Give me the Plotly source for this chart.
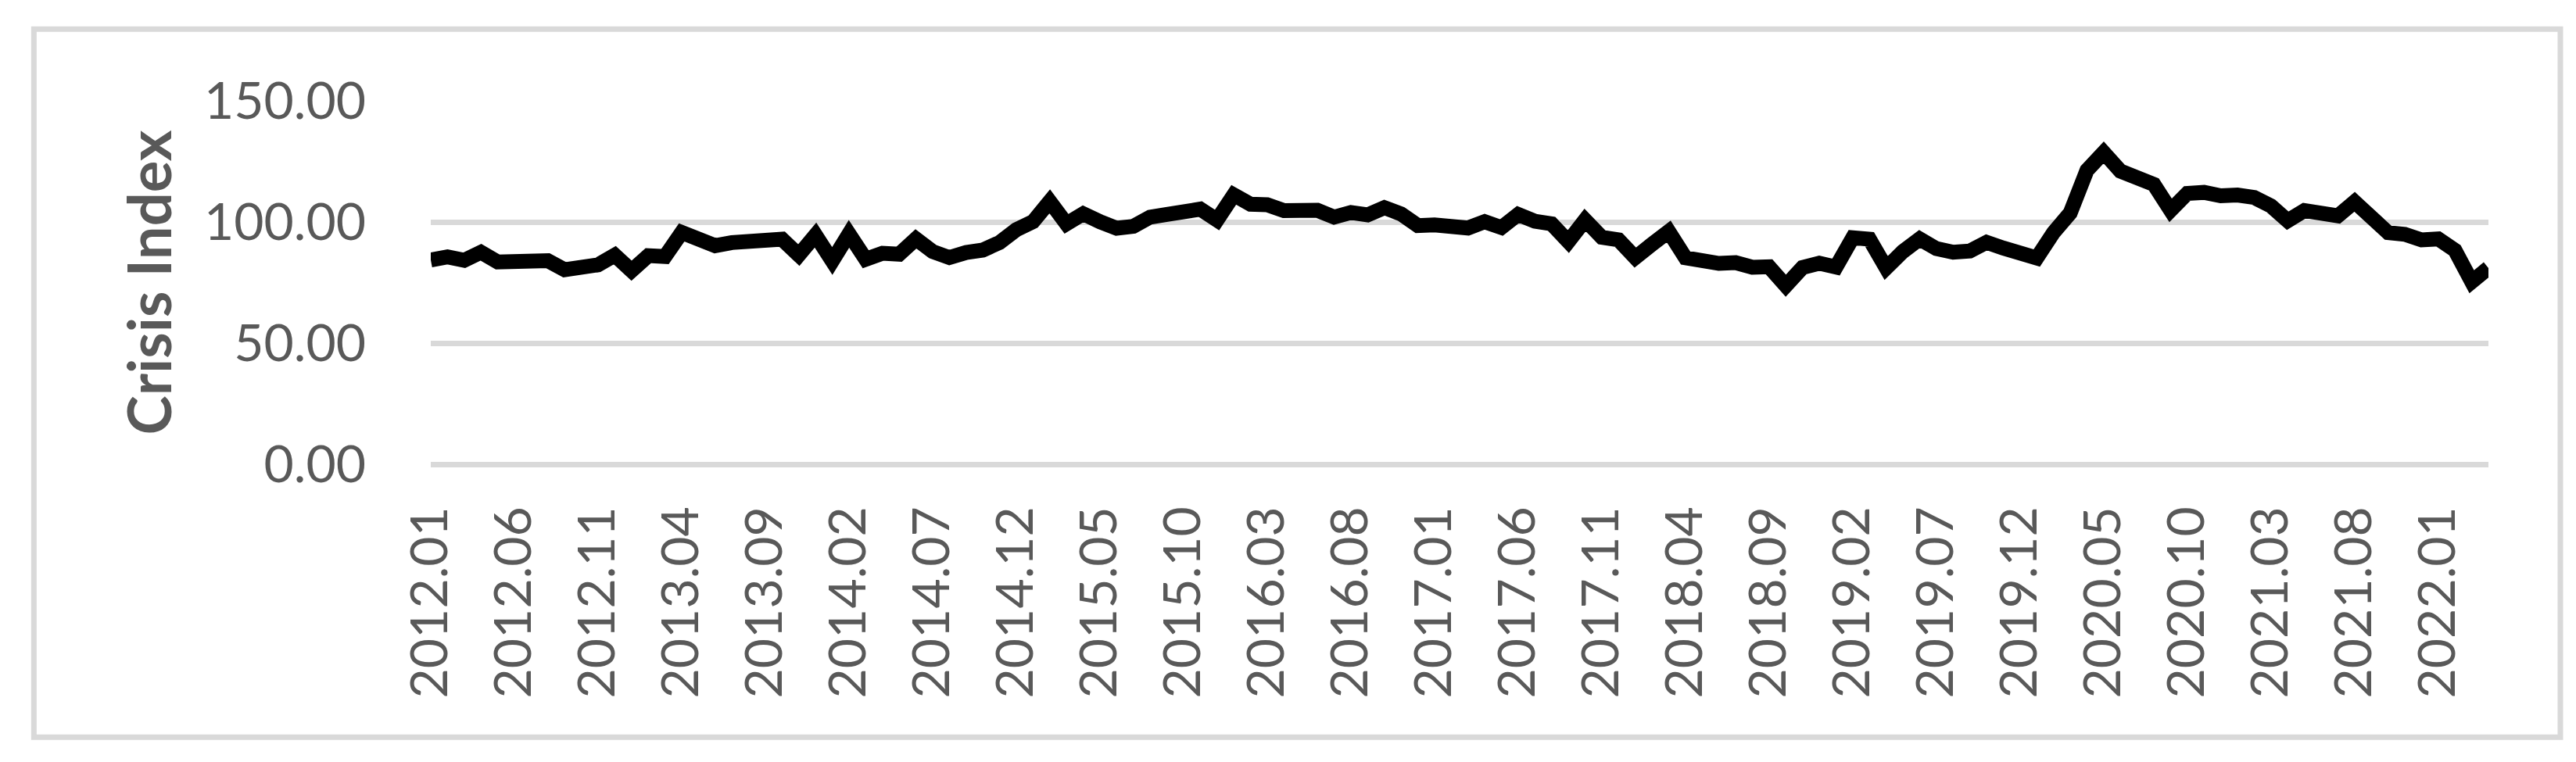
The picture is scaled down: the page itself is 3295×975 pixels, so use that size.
import plotly.graph_objects as go

# monthly crisis index, 2012.01 .. 2022.04
start_year = 2012
start_month = 1
crisis_index = [
    84.3, 85.6, 84.2, 87.5, 83.5, 84.0, 83.7, 84.0, 80.3, 82.0, 82.3, 86.3,
    79.9, 86.1, 85.7, 95.7, 93.2, 90.2, 91.5, 92.3, 92.8, 92.9, 86.3, 94.6,
    83.9, 95.1, 84.6, 87.1, 86.7, 93.0, 87.8, 85.3, 87.4, 88.4, 91.5, 96.8,
    100.1, 108.5, 99.2, 103.4, 100.1, 97.4, 98.2, 102.0, 103.1, 103.8, 105.3, 100.8,
    111.2, 107.3, 107.1, 104.7, 105.2, 104.8, 102.0, 103.9, 102.9, 105.9, 103.3, 98.5,
    98.8, 97.4, 97.5, 100.1, 97.7, 103.1, 100.3, 99.2, 91.9, 100.8, 93.7, 92.6,
    85.3, 90.8, 96.1, 85.2, 83.5, 82.9, 83.2, 81.3, 81.5, 73.7, 81.2, 83.0,
    81.4, 93.5, 92.9, 81.0, 87.8, 93.0, 89.0, 87.5, 88.0, 91.6, 89.2, 87.7,
    85.1, 95.6, 103.7, 121.3, 128.7, 121.0, 117.8, 115.5, 104.8, 111.8, 112.2, 110.8,
    111.1, 110.1, 106.6, 100.5, 104.7, 103.3, 102.5, 108.3, 101.2, 95.6, 94.9, 92.6,
    93.0, 88.3, 75.3, 81.0,
]
months = []
for k in range(len(crisis_index)):
    m = start_month - 1 + k
    months.append("%d.%02d" % (start_year + m // 12, m % 12 + 1))
tick_labels = months[::5]
y_ticks = [0, 50, 100, 150]

W, H = 3295, 975
L, R, T, B = 542.7, 3175, 120.7, 585.7
grey = "#595959"
grid = "#D9D9D9"

fig = go.Figure()
fig.add_trace(go.Scatter(x=months, y=crisis_index, mode="lines",
                         line=dict(color="black", width=19)))

fig.update_layout(
    width=W, height=H, showlegend=False,
    margin=dict(l=L, r=W - R, t=T, b=H - B, autoexpand=False),
    paper_bgcolor="white", plot_bgcolor="white",
    font=dict(family="Lato", color=grey),
)
fig.update_xaxes(type="category", tickmode="array", tickvals=tick_labels, ticktext=tick_labels,
                 tickangle=-90, tickfont=dict(size=66, color=grey), showgrid=False,
                 showline=False, zeroline=False, ticks="", ticklabelstandoff=40)
fig.update_yaxes(range=[0, 150], tickvals=y_ticks, ticktext=["%.2f" % v for v in y_ticks],
                 tickfont=dict(size=66, color=grey), showgrid=True, gridcolor=grid, gridwidth=7,
                 zeroline=True, zerolinecolor=grid, zerolinewidth=7, showline=False,
                 ticks="", ticklabelstandoff=82,
                 title=dict(text="<b>Crisis Index</b>", font=dict(size=76, color=grey), standoff=16))

# outer chart border
pw, ph = R - L, B - T
fig.add_shape(type="rect", xref="paper", yref="paper",
              x0=(35 - L) / pw, x1=(3267 - L) / pw, y0=(B - 935) / ph, y1=(B - 29) / ph,
              line=dict(color=grid, width=7), layer="below")

fig.write_html("out.html")
